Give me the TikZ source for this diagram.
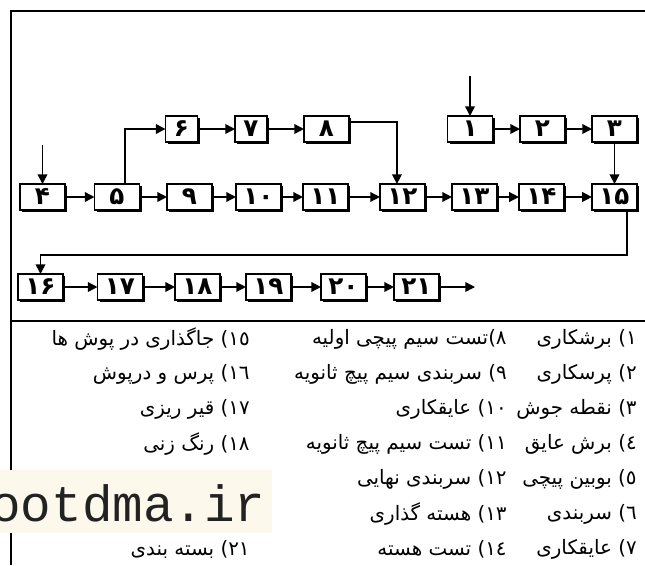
\documentclass[tikz,border=0pt]{standalone}
\usepackage{fontspec}
\usetikzlibrary{positioning, arrows.meta, shadows}
\newfontfamily\farsi[Script=Arabic]{DejaVu Sans}
\newfontfamily\farsinum[Script=Arabic]{DejaVu Sans Bold}
\newfontfamily\wmfont{Liberation Mono}
\TeXXeTstate=1
\definecolor{wmback}{RGB}{253,248,236}
\definecolor{wmtext}{RGB}{34,34,34}
\tikzset{
>={Triangle[length=5.5pt,width=5.5pt]}, % filled heads as in the scan
flow/.style={->, line width=0.85pt}, % process arrows
frame/.style={line width=1.2pt},
proc/.style={rectangle, draw=black, fill=white, line width=0.85pt,
  minimum width=0.9cm, minimum height=0.52cm, inner sep=0pt, outer sep=0pt,
  font=\farsinum\fontsize{14}{14}\selectfont,
  drop shadow={shadow xshift=1.3pt, shadow yshift=-1.3pt, fill=black, opacity=1}},
narrow/.style={proc, minimum width=0.64cm},
legend/.style={anchor=east, inner sep=0pt, font=\farsi\fontsize{11.3}{13}\selectfont},
}

\begin{document}
\begin{tikzpicture}[x=0.02cm, y=-0.02cm]
  \useasboundingbox (0,0) rectangle (645,565);
  \draw[frame] (645,11) -- (11,11) -- (11,565);
  \draw[frame] (11,321) -- (645,321);

  % top row
  \node[narrow] (b6) at (181.5,129) {۶};
  \node[narrow, right=0.75cm of b6] (b7) {۷};
  \node[proc, right=0.74cm of b7] (b8) {۸};
  \node[proc] (b1) at (470,129) {۱};
  \node[proc, right=0.55cm of b1] (b2) {۲};
  \node[proc, right=0.54cm of b2] (b3) {۳};

  % middle row
  \node[proc] (b4) at (42.5,197) {۴};
  \node[proc, right=0.59cm of b4] (b5) {۵};
  \node[proc, right=0.55cm of b5] (b9) {۹};
  \node[proc, right=0.48cm of b9] (b10) {۱۰};
  \node[proc, right=0.44cm of b10] (b11) {۱۱};
  \node[proc, right=0.64cm of b11] (b12) {۱۲};
  \node[proc, right=0.54cm of b12] (b13) {۱۳};
  \node[proc, right=0.44cm of b13] (b14) {۱۴};
  \node[proc, right=0.56cm of b14] (b15) {۱۵};

  % bottom row
  \node[proc] (b16) at (40.5,287) {۱۶};
  \node[proc, right=0.69cm of b16] (b17) {۱۷};
  \node[proc, right=0.65cm of b17] (b18) {۱۸};
  \node[proc, right=0.52cm of b18] (b19) {۱۹};
  \node[proc, right=0.6cm of b19] (b20) {۲۰};
  \node[proc, right=0.56cm of b20] (b21) {۲۱};

  \coordinate (in1) at (470,76);
  \coordinate (in4) at (42.5,145);
  \coordinate (wrap) at (330,255);
  \coordinate (out) at (475,287);

  \draw[flow] (in1) -- (b1);
  \draw[flow] (b1) -- (b2);
  \draw[flow] (b2) -- (b3);
  \draw[flow] (b3.south) -- (b3.south |- b15.north);
  \draw[flow] (in4) -- (b4);
  \draw[flow] (b4) -- (b5);
  \draw[flow] ([xshift=0.16cm]b5.north) |- (b6.west);
  \draw[flow] (b6) -- (b7);
  \draw[flow] (b7) -- (b8);
  \draw[flow] ([yshift=0.14cm]b8.east) -| ([xshift=-0.11cm]b12.north);
  \draw[flow] (b5) -- (b9);
  \draw[flow] (b9) -- (b10);
  \draw[flow] (b10) -- (b11);
  \draw[flow] (b11) -- (b12);
  \draw[flow] (b12) -- (b13);
  \draw[flow] (b13) -- (b14);
  \draw[flow] (b14) -- (b15);
  \draw[flow] ([xshift=0.25cm]b15.south) |- (wrap) -| (b16.north);
  \draw[flow] (b16) -- (b17);
  \draw[flow] (b17) -- (b18);
  \draw[flow] (b18) -- (b19);
  \draw[flow] (b19) -- (b20);
  \draw[flow] (b20) -- (b21);
  \draw[flow] (b21) -- (out);

  % legend
  \node[legend] (l1) at (637,339) {\beginR ١)^^^^200f برشکاری\endR};
  \node[legend] (l2) at (637,374) {\beginR ٢)^^^^200f پرسکاری\endR};
  \node[legend] (l3) at (637,409) {\beginR ٣)^^^^200f نقطه جوش\endR};
  \node[legend] (l4) at (637,444) {\beginR ٤)^^^^200f برش عایق\endR};
  \node[legend] (l5) at (637,479) {\beginR ٥)^^^^200f بوبین پیچی\endR};
  \node[legend] (l6) at (637,514) {\beginR ٦)^^^^200f سربندی\endR};
  \node[legend] (l7) at (637,549) {\beginR ٧)^^^^200f عایقکاری\endR};
  \node[legend] (l8) at (507,339) {\beginR ٨)تست سیم پیچی اولیه\endR};
  \node[legend] (l9) at (507,374) {\beginR ٩)^^^^200f سربندی سیم پیچ ثانویه\endR};
  \node[legend] (l10) at (507,409) {\beginR ١٠)^^^^200f عایقکاری\endR};
  \node[legend] (l11) at (507,444) {\beginR ١١)^^^^200f تست سیم پیچ ثانویه\endR};
  \node[legend] (l12) at (507,479) {\beginR ١٢)^^^^200f سربندی نهایی\endR};
  \node[legend] (l13) at (507,514) {\beginR ١٣)^^^^200f هسته گذاری\endR};
  \node[legend] (l14) at (507,549) {\beginR ١٤)^^^^200f تست هسته\endR};
  \node[legend] (l15) at (250,339) {\beginR ١٥)^^^^200f جاگذاری در پوش ها\endR};
  \node[legend] (l16) at (250,374) {\beginR ١٦)^^^^200f پرس و درپوش\endR};
  \node[legend] (l17) at (250,409) {\beginR ١٧)^^^^200f قیر ریزی\endR};
  \node[legend] (l18) at (250,444) {\beginR ١٨)^^^^200f رنگ زنی\endR};
  \node[legend] (l21) at (250,549) {\beginR ٢١)^^^^200f بسته بندی\endR};

  % site stamp over the left column
  \fill[wmback] (0,470) rectangle (272,533);
  \node[anchor=base west, inner sep=0pt, text=wmtext, font=\wmfont\fontsize{29}{29}\selectfont] (wm) at (-10,521) {ootdma.ir};
\end{tikzpicture}
\end{document}
